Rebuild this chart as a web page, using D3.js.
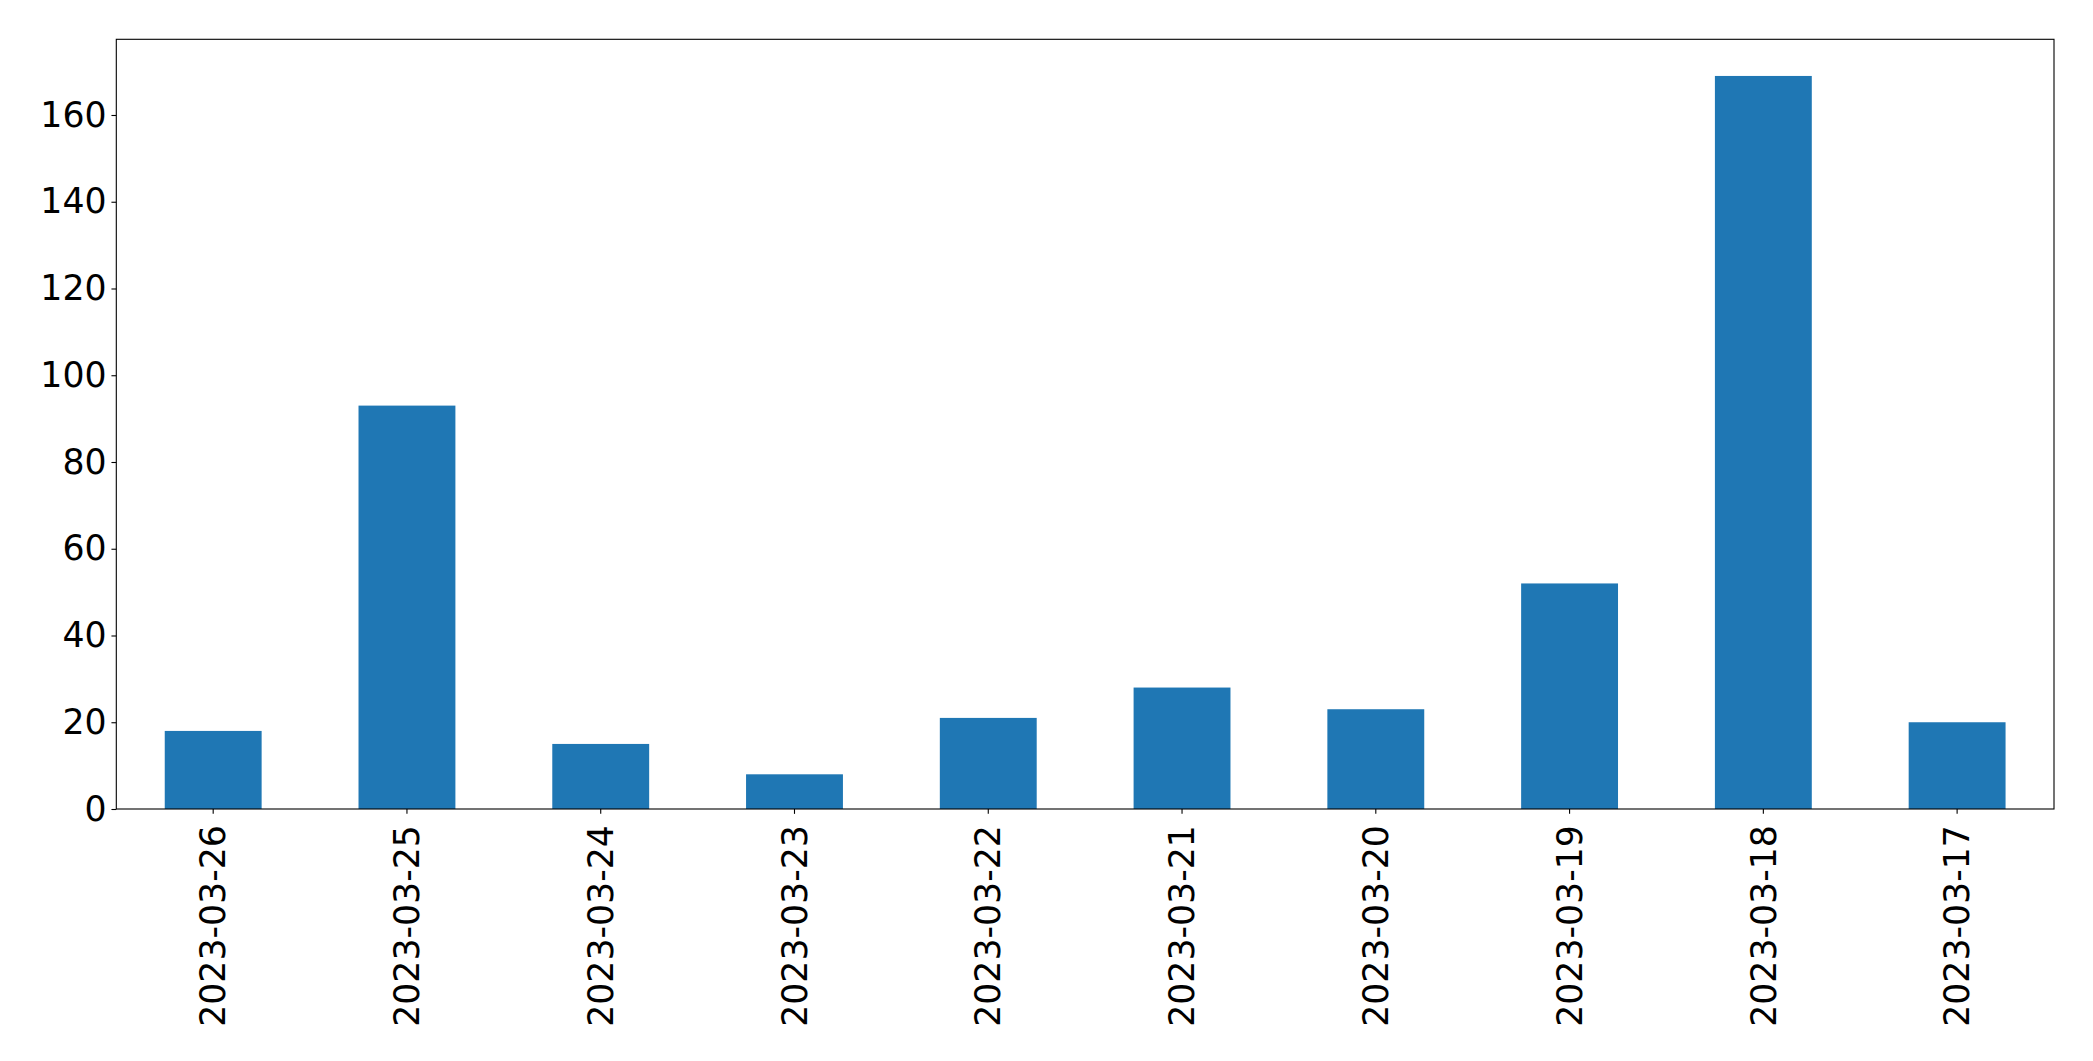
<!DOCTYPE html>
<html>
<head>
<meta charset="utf-8">
<script src="https://cdn.jsdelivr.net/npm/d3@7"></script>
<style>
  body { margin: 0; background: #fff; }
  svg { display: block; }
  text { font-family: "DejaVu Sans", sans-serif; }
</style>
</head>
<body>
<svg width="2093" height="1061"></svg>
<script>
// data
var dates = ["2023-03-26", "2023-03-25", "2023-03-24", "2023-03-23", "2023-03-22",
             "2023-03-21", "2023-03-20", "2023-03-19", "2023-03-18", "2023-03-17"];
var counts = [18, 93, 15, 8, 21, 28, 23, 52, 169, 20];
var yTicks = [0, 20, 40, 60, 80, 100, 120, 140, 160];

var svg = d3.select("svg"),
    margin = {top: 39.3, right: 2093 - 2054, bottom: 1061 - 809, left: 116.3},
    width = +svg.attr("width") - margin.left - margin.right,
    height = +svg.attr("height") - margin.top - margin.bottom,
    g = svg.append("g").attr("transform", "translate(" + margin.left + "," + margin.top + ")");

var fontSize = 34.7,
    tick = 4.86;

// band scale: matplotlib bar width 0.5 with -0.5..n-0.5 limits
var x = d3.scaleBand()
    .domain(dates)
    .range([0, width])
    .paddingInner(0.5)
    .paddingOuter(0.25);

var y = d3.scaleLinear()
    .domain([0, d3.max(counts) * 1.05])
    .range([height, 0]);

g.selectAll(".bar")
    .data(counts)
    .enter().append("rect")
    .attr("class", "bar")
    .attr("x", function(d, i) { return x(dates[i]); })
    .attr("y", function(d) { return y(d); })
    .attr("width", x.bandwidth())
    .attr("height", function(d) { return height - y(d); })
    .attr("fill", "#1f77b4");

var xAxis = d3.axisBottom(x)
    .tickSize(tick)
    .tickPadding(tick);

var yAxis = d3.axisLeft(y)
    .tickValues(yTicks)
    .tickSize(tick)
    .tickPadding(tick);

g.append("g")
    .attr("transform", "translate(0," + height + ")")
    .call(customXAxis);

g.append("g")
    .call(customYAxis);

function customXAxis(sel) {
    sel.call(xAxis);
    sel.select(".domain").remove();
    sel.selectAll(".tick line").attr("stroke", "#000").attr("stroke-width", 1.1);
    sel.selectAll(".tick text")
        .attr("font-size", fontSize)
        .attr("font-family", "DejaVu Sans")
        .attr("fill", "#000")
        .attr("text-anchor", "end")
        .attr("transform", "rotate(-90)")
        .attr("x", -16.2)
        .attr("y", 0)
        .attr("dy", "0.35em");
}

function customYAxis(sel) {
    sel.call(yAxis);
    sel.select(".domain").remove();
    sel.selectAll(".tick line").attr("stroke", "#000").attr("stroke-width", 1.1);
    sel.selectAll(".tick text")
        .attr("font-size", fontSize)
        .attr("font-family", "DejaVu Sans")
        .attr("fill", "#000");
}

// frame around the plot
g.append("rect")
    .attr("width", width)
    .attr("height", height)
    .attr("fill", "none")
    .attr("stroke", "#000")
    .attr("stroke-width", 1.1);
</script>
</body>
</html>
